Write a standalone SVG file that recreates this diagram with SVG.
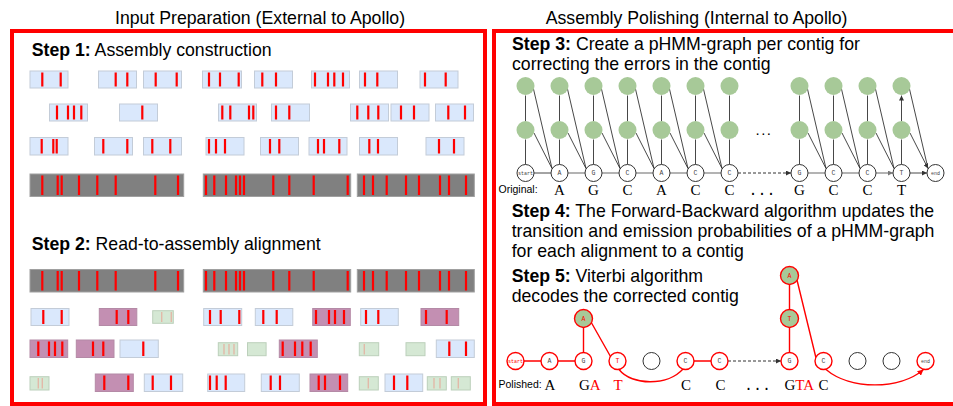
<svg xmlns="http://www.w3.org/2000/svg" width="953" height="406" viewBox="0 0 953 406">
<defs>
<style>
text{font-family:"Liberation Sans",Arial,sans-serif;fill:#000}
.h{font-size:17.7px}
.bd{font-weight:bold}
.frame{fill:none;stroke:#f00;stroke-width:4}
.b{fill:#dae8fc;stroke:#c3ccd8;stroke-width:1}
.p{fill:#c38fb2;stroke:#b48aa6;stroke-width:1}
.g{fill:#d5e8d4;stroke:#bcd0bb;stroke-width:1}
.k{fill:#808080;stroke:#a0a0a0;stroke-width:1}
.bar{stroke:#f00;stroke-width:2.2;fill:none}
.fb{stroke:#e2b9a8;stroke-width:1.4;fill:none}
.gr{fill:#a7c998;stroke:#f00;stroke-width:1.4}
.sn{fill:#fff;stroke:#333;stroke-width:1}
.rn{fill:#fff;stroke:#f00;stroke-width:1.4}
.mono{font-family:"Liberation Mono","DejaVu Sans Mono",monospace}
.ser{font-family:"Liberation Serif","DejaVu Serif",serif}
.nl{font-size:6.5px;fill:#444;text-anchor:middle}
.sl{font-size:5px}
.red{fill:#f00}
.e{stroke:#333;stroke-width:0.9;fill:none;marker-end:url(#ak)}
.eh{stroke:#9a9a9a;stroke-width:1.6;fill:none;marker-end:url(#ag)}
.ed{stroke:#333;stroke-width:1;fill:none;stroke-dasharray:3 2;marker-end:url(#ak)}
.er{stroke:#f00;stroke-width:1.4;fill:none;marker-end:url(#ar)}
.seq{font-size:15px;text-anchor:middle}
.seqs{font-size:15px}
.lab{font-size:10.5px}
</style>
<marker id="ak" viewBox="0 0 6 6" refX="6" refY="3" markerWidth="5" markerHeight="5" orient="auto" markerUnits="userSpaceOnUse"><path d="M0,0L6,3L0,6z" fill="#333"/></marker>
<marker id="ag" viewBox="0 0 6 6" refX="6" refY="3" markerWidth="5" markerHeight="5" orient="auto" markerUnits="userSpaceOnUse"><path d="M0,0L6,3L0,6z" fill="#777"/></marker>
<marker id="ar" viewBox="0 0 6 6" refX="6" refY="3" markerWidth="6" markerHeight="6" orient="auto" markerUnits="userSpaceOnUse"><path d="M0,0L6,3L0,6z" fill="#f00"/></marker>
</defs>

<!-- Headers and frames -->
<text class="h" x="115" y="24">Input Preparation (External to Apollo)</text>
<text class="h" x="545.7" y="23.5">Assembly Polishing (Internal to Apollo)</text>
<rect class="frame" x="12" y="31" width="473" height="373"/>
<rect class="frame" x="494" y="31" width="480" height="373"/>

<!-- Left panel -->
<g id="left-panel">
<text class="h" x="31.7" y="55.5"><tspan class="bd">Step 1:</tspan> Assembly construction</text>
<text class="h" x="31.7" y="249.5"><tspan class="bd">Step 2:</tspan> Read-to-assembly alignment</text>

<g id="row1">
<rect class="b" x="30" y="71" width="38" height="17"/>
<rect class="b" x="98.5" y="71" width="38" height="17"/>
<rect class="b" x="143.5" y="71" width="38" height="17"/>
<rect class="b" x="202.5" y="71" width="39" height="17"/>
<rect class="b" x="254.5" y="71" width="38" height="17"/>
<rect class="b" x="311.5" y="71" width="38" height="17"/>
<rect class="b" x="359.5" y="71" width="38" height="17"/>
<rect class="b" x="420" y="71" width="38" height="17"/>
<path class="bar" d="M42.3 72.5v14M60.7 72.5v14M115.7 72.5v14M127.3 72.5v14M155.7 72.5v14M176.7 72.5v14M209 72.5v14M220 72.5v14M238.7 72.5v14M262.3 72.5v14M276 72.5v14M315 72.5v14M328 72.5v14M334.3 72.5v14M343 72.5v14M365 72.5v14M377.3 72.5v14M425 72.5v14M445.7 72.5v14"/>
</g>

<g id="row2">
<rect class="b" x="49.5" y="104" width="38" height="17"/>
<rect class="b" x="119.5" y="104" width="38" height="17"/>
<rect class="b" x="218.5" y="104" width="38" height="17"/>
<rect class="b" x="271.5" y="104" width="38" height="17"/>
<rect class="b" x="350.5" y="104" width="38" height="17"/>
<rect class="b" x="391" y="104" width="38" height="17"/>
<rect class="b" x="435.5" y="104" width="38" height="17"/>
<path class="bar" d="M57 105.5v14M68 105.5v14M74 105.5v14M81.3 105.5v14M142.3 105.5v14M222.3 105.5v14M230.3 105.5v14M249 105.5v14M253.3 105.5v14M276 105.5v14M289.3 105.5v14M357.3 105.5v14M368.3 105.5v14M378.3 105.5v14M401 105.5v14M414 105.5v14M448.3 105.5v14M465 105.5v14"/>
</g>

<g id="row3">
<rect class="b" x="30" y="137.5" width="38" height="17.5"/>
<rect class="b" x="94.5" y="137.5" width="38" height="17.5"/>
<rect class="b" x="143.5" y="137.5" width="38" height="17.5"/>
<rect class="b" x="206" y="137.5" width="38" height="17.5"/>
<rect class="b" x="260.5" y="137.5" width="38" height="17.5"/>
<rect class="b" x="309" y="137.5" width="38" height="17.5"/>
<rect class="b" x="359.5" y="137.5" width="38" height="17.5"/>
<rect class="b" x="426" y="137.5" width="38" height="17.5"/>
<path class="bar" d="M41.7 139v14.5M53.3 139v14.5M56.7 139v14.5M103.3 139v14.5M127.3 139v14.5M152.3 139v14.5M170.3 139v14.5M209 139v14.5M216 139v14.5M225 139v14.5M270 139v14.5M279.3 139v14.5M318 139v14.5M324 139v14.5M339.3 139v14.5M369.3 139v14.5M378 139v14.5M439 139v14.5M454 139v14.5"/>
</g>

<g id="row4">
<rect class="k" x="30" y="174" width="153.7" height="22.5"/>
<rect class="k" x="203.3" y="174" width="147.4" height="22.5"/>
<rect class="k" x="357.3" y="174" width="117" height="22.5"/>
<path class="bar" d="M42.3 175.5v19.5M57.7 175.5v19.5M61.7 175.5v19.5M79 175.5v19.5M97.3 175.5v19.5M115.7 175.5v19.5M155.3 175.5v19.5M178 175.5v19.5M206 175.5v19.5M214.3 175.5v19.5M226 175.5v19.5M236 175.5v19.5M240 175.5v19.5M244 175.5v19.5M273.3 175.5v19.5M289.3 175.5v19.5M313.7 175.5v19.5M347.7 175.5v19.5M364 175.5v19.5M373 175.5v19.5M386.7 175.5v19.5M406 175.5v19.5M419 175.5v19.5M440 175.5v19.5M449 175.5v19.5M466 175.5v19.5"/>
</g>

<g id="row5">
<rect class="k" x="30" y="269.5" width="153.7" height="22.5"/>
<rect class="k" x="203.3" y="269.5" width="147.4" height="22.5"/>
<rect class="k" x="357.3" y="269.5" width="117" height="22.5"/>
<path class="bar" d="M42.3 271v19.5M57.7 271v19.5M61.7 271v19.5M79 271v19.5M97.3 271v19.5M115.7 271v19.5M155.3 271v19.5M178 271v19.5M206 271v19.5M214.3 271v19.5M226 271v19.5M236 271v19.5M240 271v19.5M244 271v19.5M273.3 271v19.5M289.3 271v19.5M313.7 271v19.5M347.7 271v19.5M364 271v19.5M373 271v19.5M386.7 271v19.5M406 271v19.5M419 271v19.5M440 271v19.5M449 271v19.5M466 271v19.5"/>
</g>

<g id="row6">
<rect class="b" x="31" y="308.5" width="38" height="17"/>
<rect class="p" x="99.3" y="308.5" width="37.5" height="17"/>
<rect class="g" x="152.7" y="310.7" width="20.6" height="12.6"/>
<rect class="b" x="203.7" y="308.5" width="38" height="17"/>
<rect class="b" x="255.3" y="308.5" width="37.5" height="17"/>
<rect class="p" x="312.7" y="308.5" width="37.6" height="17"/>
<rect class="b" x="360.7" y="308.5" width="37.6" height="17"/>
<rect class="p" x="421" y="308.5" width="37.7" height="17"/>
<path class="fb" d="M161.7 312v10M171.3 312v10"/>
<path class="bar" d="M43.3 310v14M61.7 310v14M116.7 310v14M128.3 310v14M210 310v14M220.7 310v14M239.3 310v14M263.3 310v14M276.7 310v14M316 310v14M329 310v14M335 310v14M344 310v14M366 310v14M378.3 310v14M426 310v14M446.7 310v14"/>
</g>

<g id="row7">
<rect class="p" x="30" y="340" width="37.7" height="17.5"/>
<rect class="p" x="76.3" y="340" width="37.7" height="17.5"/>
<rect class="b" x="120" y="340" width="38.3" height="17.5"/>
<rect class="g" x="218.3" y="342.7" width="19.4" height="13"/>
<rect class="g" x="247.5" y="342.7" width="18.6" height="13"/>
<rect class="p" x="279.3" y="340" width="38" height="17.5"/>
<rect class="g" x="359.3" y="342.7" width="19.4" height="13"/>
<rect class="g" x="406" y="342.7" width="19" height="13"/>
<rect class="b" x="436.3" y="340" width="38" height="17.5"/>
<path class="fb" d="M224 344v10.4M229 344v10.4M234 344v10.4M364.3 344v10.4"/>
<path class="bar" d="M38.3 341.5v14.5M49 341.5v14.5M55 341.5v14.5M62.3 341.5v14.5M93 341.5v14.5M103.3 341.5v14.5M143.3 341.5v14.5M282.7 341.5v14.5M295 341.5v14.5M302.3 341.5v14.5M310.7 341.5v14.5M449.3 341.5v14.5M466 341.5v14.5"/>
</g>

<g id="row8">
<rect class="g" x="30" y="376.7" width="19" height="13.3"/>
<rect class="p" x="95.3" y="374" width="38" height="17.5"/>
<rect class="b" x="144.3" y="374" width="38.4" height="17.5"/>
<rect class="b" x="207.7" y="374" width="37" height="17.5"/>
<rect class="b" x="261.3" y="374" width="38" height="17.5"/>
<rect class="p" x="310" y="374" width="37.7" height="17.5"/>
<rect class="g" x="359.3" y="376.7" width="19" height="13.3"/>
<rect class="b" x="385" y="374" width="37.7" height="17.5"/>
<rect class="g" x="427.3" y="376.7" width="19" height="13.3"/>
<rect class="g" x="451.3" y="376.7" width="19" height="13.3"/>
<path class="fb" d="M38.3 378v10.6M42.3 378v10.6M368.3 378v10.6M434 378v10.6M440 378v10.6M458.3 378v10.6"/>
<path class="bar" d="M104.3 375.5v14.5M128.3 375.5v14.5M152.7 375.5v14.5M171 375.5v14.5M210 375.5v14.5M216.7 375.5v14.5M225.7 375.5v14.5M270.7 375.5v14.5M280 375.5v14.5M318.7 375.5v14.5M325 375.5v14.5M340 375.5v14.5M394 375.5v14.5M407.3 375.5v14.5"/>
</g>
</g>

<!-- Right panel texts -->
<text class="h" x="512" y="49.5"><tspan class="bd">Step 3:</tspan> Create a pHMM-graph per contig for</text>
<text class="h" x="512" y="69.5">correcting the errors in the contig</text>
<text class="h" x="511.7" y="217"><tspan class="bd">Step 4:</tspan> The Forward-Backward algorithm updates the</text>
<text class="h" x="511.7" y="237">transition and emission probabilities of a pHMM-graph</text>
<text class="h" x="511.7" y="257">for each alignment to a contig</text>
<text class="h" x="511.7" y="282"><tspan class="bd">Step 5:</tspan> Viterbi algorithm</text>
<text class="h" x="511.7" y="302">decodes the corrected contig</text>

<!-- Step 3 connectors -->
<g id="step3-connectors">
<path class="e" d="M525.5 164.5V139.5M525.5 121V95.5M559.5 164.5V139.5M559.5 121V95.5M593.5 164.5V139.5M593.5 121V95.5M627.5 164.5V139.5M627.5 121V95.5M661.5 164.5V139.5M661.5 121V95.5M695.5 164.5V139.5M695.5 121V95.5M729.5 164.5V139.5M729.5 121V95.5M799.5 164.5V139.5M799.5 121V95.5M833.5 164.5V139.5M833.5 121V95.5M867.5 164.5V139.5M867.5 121V95.5M901.5 164.5V139.5M901.5 121V95.5"/>
<path class="e" d="M533.5 89L552 168.5M534 133L552 168.5M567.5 89L586 168.5M568 133L586 168.5M601.5 89L620 168.5M602 133L620 168.5M635.5 89L654 168.5M636 133L654 168.5M669.5 89L688 168.5M670 133L688 168.5M703.5 89L722 168.5M704 133L722 168.5M807.5 89L826 168.5M808 133L826 168.5M841.5 89L860 168.5M842 133L860 168.5M875.5 89L894 168.5M876 133L894 168.5M909.5 89L928 168.5M910 133L928 168.5"/>
<path class="e" d="M534 173H551M910 173H927"/>
<path class="eh" d="M568 173H585M602 173H619M636 173H653M670 173H687M704 173H721M808 173H825M842 173H859M876 173H893"/>
<path class="ed" d="M738 173H791"/>
</g>

<!-- Step 3 nodes -->
<g id="step3-emission-nodes">
<g fill="#a7c998">
<circle cx="525.5" cy="86" r="9"/><circle cx="559.5" cy="86" r="9"/><circle cx="593.5" cy="86" r="9"/><circle cx="627.5" cy="86" r="9"/><circle cx="661.5" cy="86" r="9"/><circle cx="695.5" cy="86" r="9"/><circle cx="729.5" cy="86" r="9"/><circle cx="799.5" cy="86" r="9"/><circle cx="833.5" cy="86" r="9"/><circle cx="867.5" cy="86" r="9"/><circle cx="901.5" cy="86" r="9"/>
<circle cx="525.5" cy="130" r="9"/><circle cx="559.5" cy="130" r="9"/><circle cx="593.5" cy="130" r="9"/><circle cx="627.5" cy="130" r="9"/><circle cx="661.5" cy="130" r="9"/><circle cx="695.5" cy="130" r="9"/><circle cx="729.5" cy="130" r="9"/><circle cx="799.5" cy="130" r="9"/><circle cx="833.5" cy="130" r="9"/><circle cx="867.5" cy="130" r="9"/><circle cx="901.5" cy="130" r="9"/>
</g>
<text x="764" y="135" font-size="15" text-anchor="middle" letter-spacing="1.5">...</text>
</g>
<g id="s3-start"><circle class="sn" cx="525.5" cy="173" r="8.5"/><text class="mono nl sl" x="525.5" y="174.8">start</text></g>
<g id="s3-A1"><circle class="sn" cx="559.5" cy="173" r="8.5"/><text class="mono nl" x="559.5" y="175.3">A</text></g>
<g id="s3-G1"><circle class="sn" cx="593.5" cy="173" r="8.5"/><text class="mono nl" x="593.5" y="175.3">G</text></g>
<g id="s3-C1"><circle class="sn" cx="627.5" cy="173" r="8.5"/><text class="mono nl" x="627.5" y="175.3">C</text></g>
<g id="s3-A2"><circle class="sn" cx="661.5" cy="173" r="8.5"/><text class="mono nl" x="661.5" y="175.3">A</text></g>
<g id="s3-C2"><circle class="sn" cx="695.5" cy="173" r="8.5"/><text class="mono nl" x="695.5" y="175.3">C</text></g>
<g id="s3-C3"><circle class="sn" cx="729.5" cy="173" r="8.5"/><text class="mono nl" x="729.5" y="175.3">C</text></g>
<g id="s3-G2"><circle class="sn" cx="799.5" cy="173" r="8.5"/><text class="mono nl" x="799.5" y="175.3">G</text></g>
<g id="s3-C4"><circle class="sn" cx="833.5" cy="173" r="8.5"/><text class="mono nl" x="833.5" y="175.3">C</text></g>
<g id="s3-C5"><circle class="sn" cx="867.5" cy="173" r="8.5"/><text class="mono nl" x="867.5" y="175.3">C</text></g>
<g id="s3-T"><circle class="sn" cx="901.5" cy="173" r="8.5"/><text class="mono nl" x="901.5" y="175.3">T</text></g>
<g id="s3-end"><circle class="sn" cx="935.5" cy="173" r="8.5"/><text class="mono nl sl" x="935.5" y="174.8">end</text></g>

<g id="original-seq">
<text class="lab" x="498.5" y="193">Original:</text>
<text class="ser seq" x="559.5" y="194.5">A</text><text class="ser seq" x="593.5" y="194.5">G</text><text class="ser seq" x="627.5" y="194.5">C</text><text class="ser seq" x="661.5" y="194.5">A</text><text class="ser seq" x="695.5" y="194.5">C</text><text class="ser seq" x="729.5" y="194.5">C</text><text class="mono seq" x="762" y="194.5">...</text><text class="ser seq" x="799.5" y="194.5">G</text><text class="ser seq" x="833.5" y="194.5">C</text><text class="ser seq" x="867.5" y="194.5">C</text><text class="ser seq" x="901.5" y="194.5">T</text>
</g>

<!-- Step 5 connectors -->
<g id="step5-connectors">
<path class="er" d="M524 361H541M558 361H575M583.5 352.5V328M591 322L610.5 356.5M619 369.5C632 386 668 386 683 369M694 361H711M789.5 352.5V328M789.5 309.5V285M797 280L816 358M826 369.5C850 390 900 390 923.5 369.5"/>
<path class="ed" d="M728 361H781"/>
</g>

<!-- Step 5 nodes -->
<g id="s5-start"><circle class="rn" cx="515.5" cy="361" r="8.5"/><text class="mono nl sl red" x="515.5" y="362.8">start</text></g>
<g id="s5-A"><circle class="rn" cx="549.5" cy="361" r="8.5"/><text class="mono nl" x="549.5" y="363.3">A</text></g>
<g id="s5-G"><circle class="rn" cx="583.5" cy="361" r="8.5"/><text class="mono nl" x="583.5" y="363.3">G</text></g>
<g id="s5-insA"><circle class="gr" cx="583.5" cy="318.5" r="9"/><text class="mono nl red" x="583.5" y="320.8">A</text></g>
<g id="s5-T"><circle class="rn" cx="617.5" cy="361" r="8.5"/><text class="mono nl red" x="617.5" y="363.3">T</text></g>
<g id="s5-empty1"><circle class="sn" cx="651.5" cy="361" r="8.5"/></g>
<g id="s5-C1"><circle class="rn" cx="685.5" cy="361" r="8.5"/><text class="mono nl" x="685.5" y="363.3">C</text></g>
<g id="s5-C2"><circle class="rn" cx="719.5" cy="361" r="8.5"/><text class="mono nl" x="719.5" y="363.3">C</text></g>
<g id="s5-G2"><circle class="rn" cx="789.5" cy="361" r="8.5"/><text class="mono nl" x="789.5" y="363.3">G</text></g>
<g id="s5-insT"><circle class="gr" cx="789.5" cy="318.5" r="9"/><text class="mono nl red" x="789.5" y="320.8">T</text></g>
<g id="s5-insA2"><circle class="gr" cx="789.5" cy="275.5" r="9"/><text class="mono nl red" x="789.5" y="277.8">A</text></g>
<g id="s5-C3"><circle class="rn" cx="823.5" cy="361" r="8.5"/><text class="mono nl" x="823.5" y="363.3">C</text></g>
<g id="s5-empty2"><circle class="sn" cx="857.5" cy="361" r="8.5"/></g>
<g id="s5-empty3"><circle class="sn" cx="891.5" cy="361" r="8.5"/></g>
<g id="s5-end"><circle class="rn" cx="925.5" cy="361" r="8.5"/><text class="mono nl sl" x="925.5" y="362.8">end</text></g>

<g id="polished-seq">
<text class="lab" x="498.5" y="388">Polished:</text>
<text class="ser seq" x="550" y="389.5">A</text>
<text class="ser seqs" x="579" y="389.5">G<tspan class="red">A</tspan></text>
<text class="ser seq red" x="618" y="389.5">T</text>
<text class="ser seq" x="686" y="389.5">C</text>
<text class="ser seq" x="720.5" y="389.5">C</text>
<text class="mono seq" x="757.5" y="389.5">...</text>
<text class="ser seqs" x="784.5" y="389.5">G<tspan class="red">TA</tspan></text>
<text class="ser seq" x="823.5" y="389.5">C</text>
</g>
</svg>
